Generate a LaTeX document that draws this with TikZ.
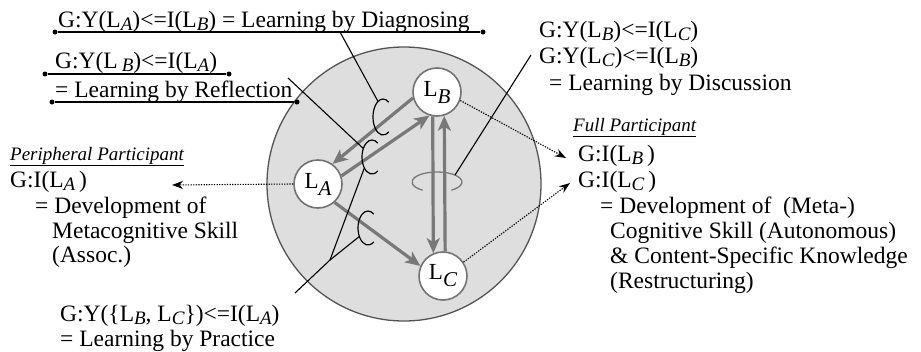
\documentclass[tikz,border=0pt]{standalone}
\usepackage{fontspec}
\setmainfont{Liberation Serif}
\usetikzlibrary{arrows.meta,positioning,calc}
\definecolor{nodegray}{gray}{0.45}
\definecolor{arrowgray}{gray}{0.47}
\definecolor{groupfill}{gray}{0.87}
\definecolor{groupline}{gray}{0.33}
\newcommand{\Lsub}[1]{L\raisebox{-3.5pt}{\fontsize{19}{19}\selectfont\itshape #1}}
\newcommand{\Lnode}[1]{L\raisebox{-7pt}{\fontsize{21}{21}\selectfont\itshape #1}}

\begin{document}
\begin{tikzpicture}[x=1pt, y=-1pt, >={Stealth[length=11pt,width=8pt]}]
\tikzset{
learner/.style  = {draw=nodegray, line width=1.6pt, fill=white, shape=circle, minimum size=48pt, inner sep=0pt, font=\fontsize{23}{23}\selectfont},
txt/.style      = {anchor=base west, inner sep=0pt, font=\fontsize{23.5}{23.5}\selectfont},
head/.style     = {anchor=base west, inner sep=0pt, font=\fontsize{19}{19}\selectfont\itshape},
dot/.style      = {circle, fill=black, inner sep=0pt, minimum size=5pt},
pointer/.style  = {draw=black, line width=1.1pt},
flow/.style     = {draw=arrowgray, line width=3.2pt, -{Stealth[length=15pt,width=13pt,inset=4pt]}},
share/.style    = {draw=black, line width=1.1pt, dash pattern=on 1.3pt off 1.3pt, ->},
hook/.style     = {draw=black, line width=1.2pt},
coord/.style    = {coordinate},
}
\useasboundingbox (0,0) rectangle (921,351);

    % Group
    \node [coord] (group) at (404,184) {};
    \draw [fill=groupfill, draw=groupline, line width=1.3pt] (group) circle [radius=137];

    % Learner nodes
    \node [learner] (la) at (318,184) {\Lnode{A}};
    \node [learner] (lb) at (437,92)  {\Lnode{B}};
    \node [learner] (lc) at (443,276) {\Lnode{C}};

    % Rotation mark
    \node [coord] (ell) at (437,182) {};
    \draw [draw=arrowgray, line width=1.3pt] (ell) ++(125:25 and 10) arc [start angle=125, end angle=415, x radius=25, y radius=10];

    % Interaction edges
    \draw [flow] (lb.194) -- (la.54);
    \draw [flow] (la.19)  -- (lb.252);
    \draw [flow] (la.312) -- (lc.156);
    \draw [flow] (lb.260) -- (lc.113.5);
    \draw [flow] (lc.85)  -- (lb.287);

    % Hooks
    \node [coord] (c1) at (383,117) {};
    \node [coord] (c2) at (372,157) {};
    \node [coord] (c3) at (368,228) {};
    \draw [hook] (c1) ++(55:10 and 18) arc [start angle=55, end angle=305, x radius=10, y radius=18];
    \draw [hook] (c2) ++(55:10 and 17) arc [start angle=55, end angle=305, x radius=10, y radius=17];
    \draw [hook] (c3) ++(55:10 and 17) arc [start angle=55, end angle=305, x radius=10, y radius=17];
    \path (c1) ++(240:10 and 18) coordinate (c1_top);
    \path (c2) ++(210:10 and 17) coordinate (c2_top);
    \path (c2) ++(140:10 and 17) coordinate (c2_low);
    \path (c3) ++(150:10 and 17) coordinate (c3_low);
    \path (ell) ++(316:25 and 10) coordinate (ell_tap);

    % Diagnosing
    \node [txt] (diag) at (58,27) {G:Y(\Lsub{A})<=I(\Lsub{B}) = Learning by Diagnosing};
    \node [dot] (diag_l) at (55,32) {};
    \node [dot] (diag_r) at (483,32) {};
    \draw [pointer] (diag_l) -- (diag_r);
    \node [coord] (diag_tap) at (340,32) {};
    \draw [pointer] (diag_tap) -- (c1_top);

    % Reflection
    \node [txt] (refl1) at (55,68) {G:Y(L\,\raisebox{-3.5pt}{\fontsize{19}{19}\selectfont\itshape B})<=I(\Lsub{A})};
    \node [txt] (refl2) at (55,97) {= Learning by Reflection};
    \node [dot] (refl1_l) at (45,74) {};
    \node [dot] (refl1_r) at (229,74) {};
    \node [dot] (refl2_l) at (52,102) {};
    \node [dot] (refl2_r) at (297,102) {};
    \draw [pointer] (refl1_l) -- (refl1_r);
    \draw [pointer] (refl2_l) -- (refl2_r);
    \node [coord] (refl_tap) at (288,78) {};
    \draw [pointer] (refl_tap) -- (c2_top);

    % Discussion
    \node [txt] (disc1) at (539,37) {G:Y(\Lsub{B})<=I(\Lsub{C})};
    \node [txt] (disc2) at (539,63) {G:Y(\Lsub{C})<=I(\Lsub{B})};
    \node [txt] (disc3) at (549,90) {= Learning by Discussion};
    \node [coord] (disc_tap) at (531,55) {};
    \draw [pointer] (disc_tap) -- (ell_tap);

    % Practice
    \node [txt] (prac1) at (60,321) {G:Y(\{\Lsub{B}, \Lsub{C}\})<=I(\Lsub{A})};
    \node [txt] (prac2) at (60,346) {= Learning by Practice};
    \node [coord] (prac_tap)  at (295,293) {};
    \node [coord] (prac_fork) at (330,260) {};
    \draw [pointer] (prac_tap) -- (prac_fork);
    \draw [pointer] (prac_fork) -- (c2_low);
    \draw [pointer] (prac_fork) -- (c3_low);

    % Peripheral participant
    \node [head] (peri) at (10,160) {\underline{Peripheral Participant}};
    \node [txt]  (peri1) at (10,187) {G:I(\Lsub{A}\,)};
    \node [txt]  (peri2) at (35,213) {= Development of};
    \node [txt]  (peri3) at (52,238) {Metacognitive Skill};
    \node [txt]  (peri4) at (52,262) {(Assoc.)};
    \node [coord] (peri_in) at (172,185) {};
    \draw [share] (la.west) -- (peri_in);

    % Full participant
    \node [head] (full) at (573,131) {\underline{Full Participant}};
    \node [txt]  (full1) at (578,161) {G:I(\Lsub{B}\,)};
    \node [txt]  (full2) at (578,187) {G:I(\Lsub{C}\,)};
    \node [txt]  (full3) at (600,213) {= Development of~ (Meta-)};
    \node [txt]  (full4) at (610,238) {Cognitive Skill (Autonomous)};
    \node [txt]  (full5) at (610,263) {\& Content-Specific Knowledge};
    \node [txt]  (full6) at (610,288) {(Restructuring)};
    \node [coord] (full_in1) at (566,158) {};
    \node [coord] (full_in2) at (570,183) {};
    \draw [share] (lb.-20) -- (full_in1);
    \draw [share] (lc.34)  -- (full_in2);

\end{tikzpicture}
\end{document}
